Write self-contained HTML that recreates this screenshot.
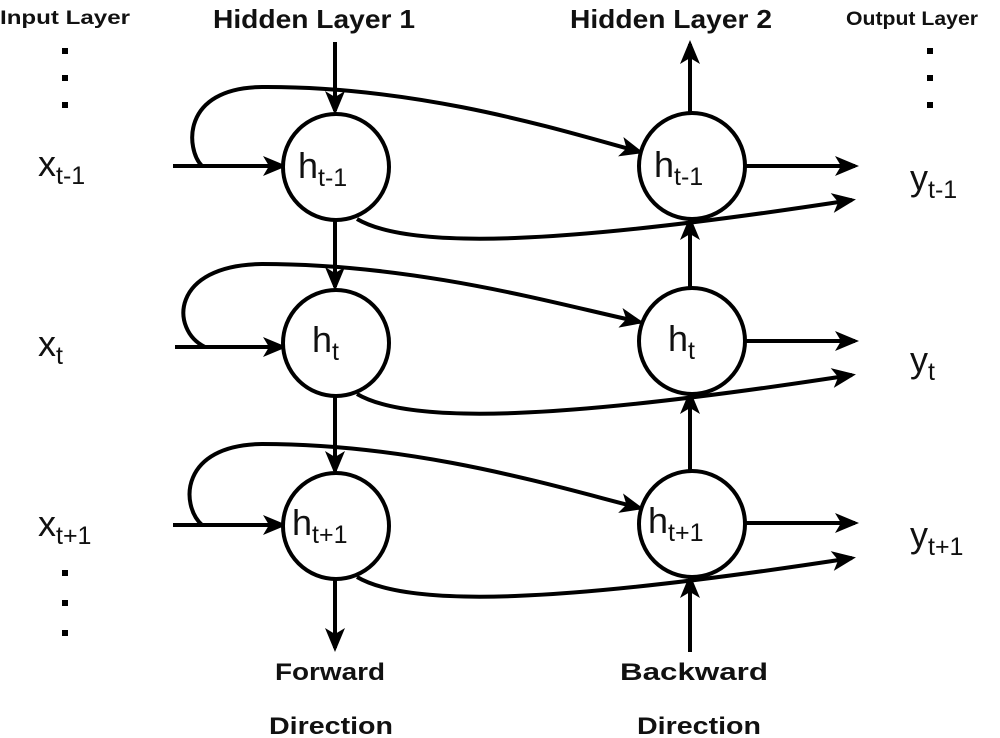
<!DOCTYPE html>
<html><head><meta charset="utf-8"><style>
html,body{margin:0;padding:0;background:#fff;}
svg{display:block}
.t{font-family:"Liberation Sans",sans-serif;fill:#111}
.b{font-weight:bold}
</style></head><body>
<svg width="1000" height="738" viewBox="0 0 1000 738" xmlns="http://www.w3.org/2000/svg">
<defs>
<marker id="a" viewBox="0 0 12 10" refX="10" refY="5" markerWidth="24" markerHeight="20" markerUnits="userSpaceOnUse" orient="auto">
<path d="M0,0 L12,5 L0,10 L3,5 Z" fill="#000"/>
</marker>
</defs>
<g stroke="#000" stroke-width="4" fill="none">
<line x1="335" y1="42" x2="335" y2="111" marker-end="url(#a)"/>
<line x1="335" y1="221" x2="335" y2="287" marker-end="url(#a)"/>
<line x1="335" y1="395" x2="335" y2="471" marker-end="url(#a)"/>
<line x1="335" y1="580" x2="335" y2="648" marker-end="url(#a)"/>
<line x1="690" y1="112" x2="690" y2="44" marker-end="url(#a)"/>
<line x1="690" y1="287" x2="690" y2="220" marker-end="url(#a)"/>
<line x1="690" y1="470" x2="690" y2="394" marker-end="url(#a)"/>
<line x1="690" y1="652" x2="690" y2="578" marker-end="url(#a)"/>
<line x1="173" y1="166" x2="283" y2="166" marker-end="url(#a)"/>
<line x1="175" y1="347" x2="283" y2="347" marker-end="url(#a)"/>
<line x1="173" y1="525" x2="283" y2="525" marker-end="url(#a)"/>
<line x1="744" y1="166" x2="855" y2="166" marker-end="url(#a)"/>
<line x1="744" y1="341" x2="855" y2="341" marker-end="url(#a)"/>
<line x1="744" y1="523" x2="855" y2="523" marker-end="url(#a)"/>
<path d="M202,166 C186,150 180,88 262,87 C420,86 560,130 640,152" marker-end="url(#a)"/>
<path d="M205,347 C170,330 170,265 262,264 C420,264 560,305 640,322" marker-end="url(#a)"/>
<path d="M202,525 C180,505 180,445 262,444 C420,444 560,488 640,508" marker-end="url(#a)"/>
<path d="M357,219 C410,250 560,245 852,200" marker-end="url(#a)"/>
<path d="M357,394 C410,425 560,420 852,375" marker-end="url(#a)"/>
<path d="M357,577 C410,608 560,603 852,558" marker-end="url(#a)"/>
</g>
<g stroke="#000" stroke-width="4" fill="#fff">
<circle cx="336" cy="167" r="53"/>
<circle cx="336" cy="343" r="53"/>
<circle cx="336" cy="526" r="53"/>
<circle cx="692" cy="166" r="53"/>
<circle cx="692" cy="341" r="53"/>
<circle cx="692" cy="524" r="53"/>
</g>
<g class="t" font-size="36">
<text x="298" y="178">h<tspan font-size="25" dy="8">t-1</tspan></text>
<text x="312" y="352">h<tspan font-size="25" dy="8">t</tspan></text>
<text x="292" y="535">h<tspan font-size="25" dy="8">t+1</tspan></text>
<text x="654" y="177">h<tspan font-size="25" dy="8">t-1</tspan></text>
<text x="668" y="351">h<tspan font-size="25" dy="8">t</tspan></text>
<text x="648" y="533">h<tspan font-size="25" dy="8">t+1</tspan></text>
<text x="38" y="176">x<tspan font-size="25" dy="8">t-1</tspan></text>
<text x="38" y="356">x<tspan font-size="25" dy="8">t</tspan></text>
<text x="38" y="536">x<tspan font-size="25" dy="8">t+1</tspan></text>
<text x="910" y="190">y<tspan font-size="25" dy="8">t-1</tspan></text>
<text x="910" y="372">y<tspan font-size="25" dy="8">t</tspan></text>
<text x="910" y="547">y<tspan font-size="25" dy="8">t+1</tspan></text>
</g>
<g class="t b">
<text x="0" y="24" font-size="19" textLength="130" lengthAdjust="spacingAndGlyphs">Input Layer</text>
<text x="213" y="28" font-size="26" textLength="202" lengthAdjust="spacingAndGlyphs">Hidden Layer 1</text>
<text x="570" y="28" font-size="26" textLength="202" lengthAdjust="spacingAndGlyphs">Hidden Layer 2</text>
<text x="846" y="25" font-size="19" textLength="132" lengthAdjust="spacingAndGlyphs">Output Layer</text>
<text x="275" y="680" font-size="24" textLength="110" lengthAdjust="spacingAndGlyphs">Forward</text>
<text x="269" y="734" font-size="24" textLength="124" lengthAdjust="spacingAndGlyphs">Direction</text>
<text x="620" y="680" font-size="24" textLength="148" lengthAdjust="spacingAndGlyphs">Backward</text>
<text x="637" y="734" font-size="24" textLength="124" lengthAdjust="spacingAndGlyphs">Direction</text>
</g>
<g fill="#000">
<rect x="62" y="48" width="6" height="6"/><rect x="62" y="75" width="6" height="6"/><rect x="62" y="102" width="6" height="6"/>
<rect x="62" y="570" width="6" height="6"/><rect x="62" y="600" width="6" height="6"/><rect x="62" y="630" width="6" height="6"/>
<rect x="927" y="48" width="6" height="6"/><rect x="927" y="75" width="6" height="6"/><rect x="927" y="102" width="6" height="6"/>
</g>
</svg>
</body></html>
